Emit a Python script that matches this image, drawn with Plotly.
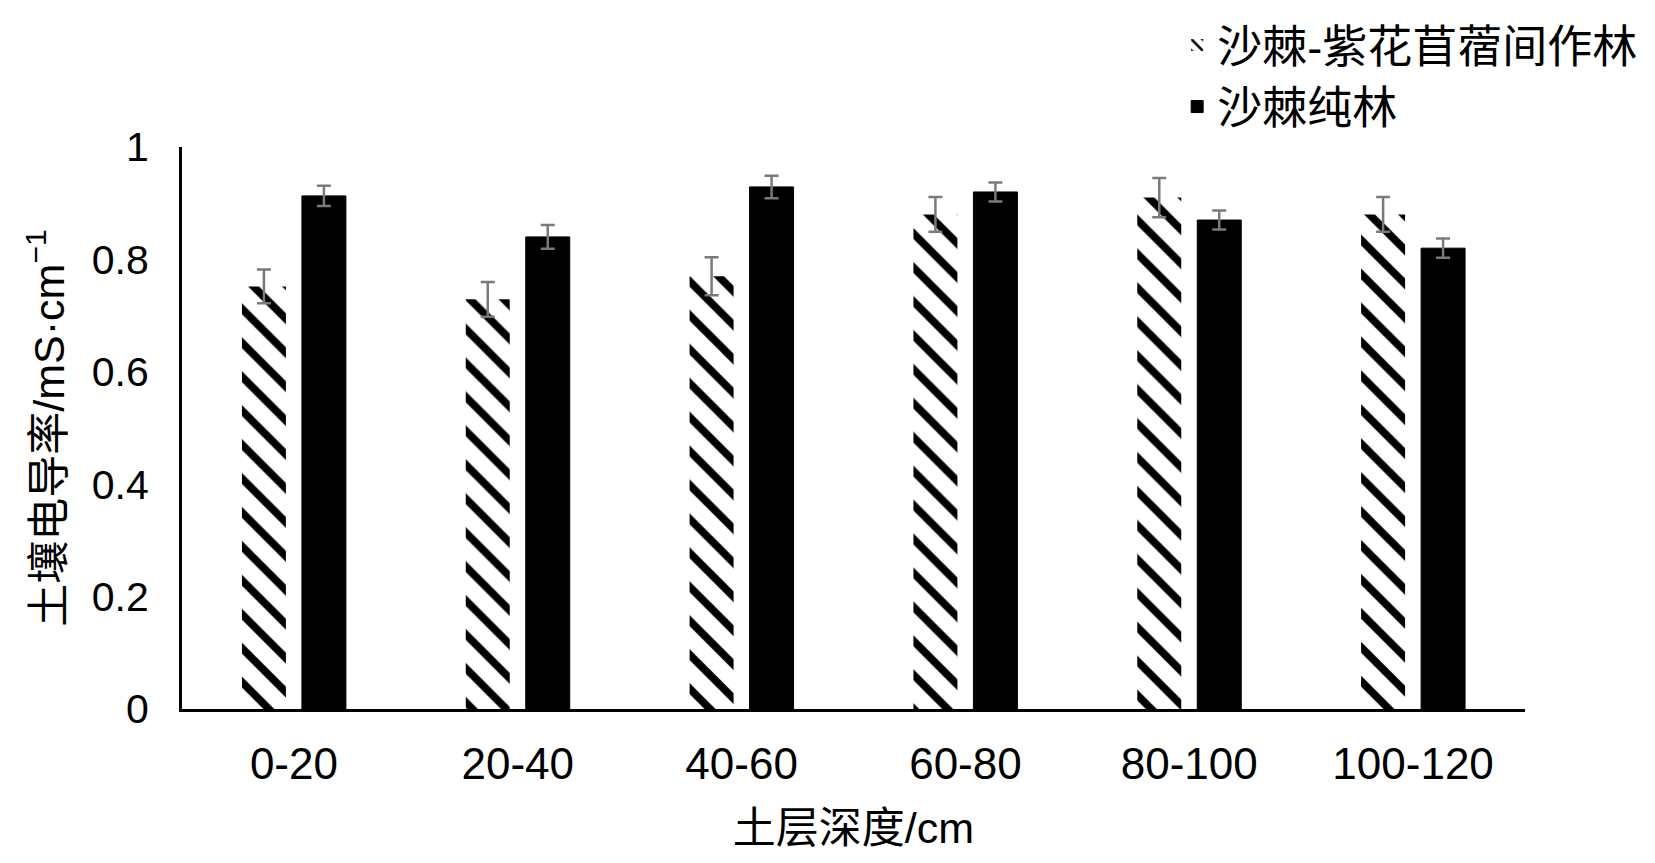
import plotly.graph_objects as go

categories = ["0-20", "20-40", "40-60", "60-80", "80-100", "100-120"]
intercrop_name = "沙棘-紫花苜蓿间作林"
pure_name = "沙棘纯林"
intercrop_vals = [0.752, 0.729, 0.770, 0.880, 0.910, 0.880]
intercrop_err = [0.030, 0.031, 0.034, 0.031, 0.035, 0.031]
pure_vals = [0.913, 0.840, 0.929, 0.920, 0.870, 0.820]
pure_err = [0.018, 0.021, 0.020, 0.017, 0.017, 0.017]
y_ticks = [0, 0.2, 0.4, 0.6, 0.8, 1]

FONT = "Liberation Sans, Arial, Noto Sans CJK SC, sans-serif"

fig = go.Figure()
fig.add_trace(go.Bar(
    x=categories, y=intercrop_vals, name=intercrop_name,
    marker=dict(color="white",
                pattern=dict(shape="\\", fgcolor="black", bgcolor="white",
                             size=24, solidity=0.32, fillmode="replace"),
                line=dict(width=0)),
    error_y=dict(type="data", array=intercrop_err, visible=True,
                 color="#7a7a7a", thickness=2.5, width=7),
))
fig.add_trace(go.Bar(
    x=categories, y=pure_vals, name=pure_name,
    marker=dict(color="black", line=dict(color="black", width=1)),
    error_y=dict(type="data", array=pure_err, visible=True,
                 color="#7a7a7a", thickness=2.5, width=7),
))

fig.update_layout(
    width=1655, height=863,
    paper_bgcolor="white", plot_bgcolor="white",
    margin=dict(l=174, r=138, t=139, b=162, autoexpand=False),
    barmode="group", bargap=0.464, bargroupgap=0.267,
    font=dict(family=FONT, size=40, color="black"),
    legend=dict(x=0.741, y=1.245, xanchor="left", yanchor="top",
                font=dict(family=FONT, size=45, color="black"),
                bgcolor="rgba(0,0,0,0)", borderwidth=0,
                tracegroupgap=0),
    showlegend=True,
)
fig.update_xaxes(
    showline=True, linecolor="black", linewidth=3, mirror=False,
    showgrid=False, ticks="", zeroline=False,
    tickfont=dict(family=FONT, size=44),
    ticklabelstandoff=14,
    title=dict(text="土层深度/cm", font=dict(family=FONT, size=43), standoff=27),
    automargin=False,
)
fig.update_yaxes(
    range=[0, 1], tickvals=y_ticks,
    showline=True, linecolor="black", linewidth=3,
    showgrid=False, ticks="", zeroline=False,
    tickfont=dict(family=FONT, size=41),
    ticklabelstandoff=22,
    title=dict(text="土壤电导率/mS·cm<sup>−1</sup>", font=dict(family=FONT, size=43), standoff=14),
    automargin=False,
)

fig.write_html("out.html")
